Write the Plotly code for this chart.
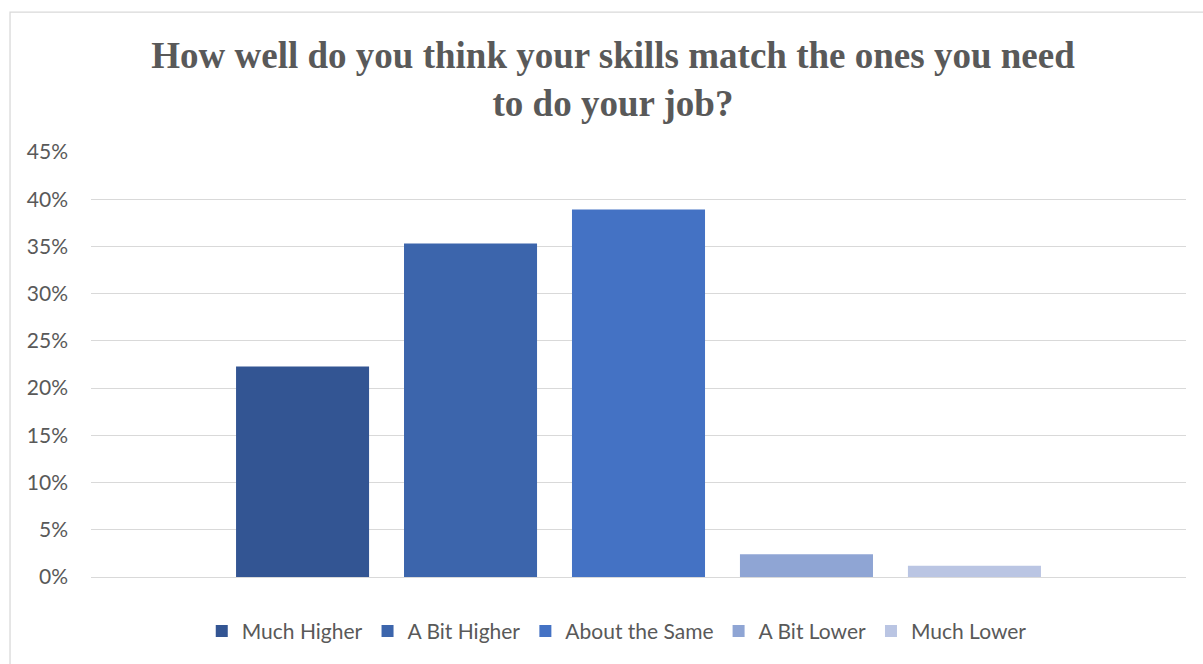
import plotly.graph_objects as go

# Survey responses: share of respondents per answer (percent)
categories = ["Much Higher", "A Bit Higher", "About the Same", "A Bit Lower", "Much Lower"]
shares = [22.3, 35.3, 38.9, 2.4, 1.2]
colors = ["#335593", "#3C65AC", "#4472C4", "#8FA5D4", "#BAC5E3"]
group_label = ["Skills vs. job requirements"]
y_ticks = [0, 5, 10, 15, 20, 25, 30, 35, 40, 45]
y_tick_labels = [f"{v}%" for v in y_ticks]

TEXT = "#595959"
GRID = "#D9D9D9"

fig = go.Figure()
for name, val, col in zip(categories, shares, colors):
    fig.add_trace(go.Bar(
        name=name,
        x=group_label,
        y=[val],
        marker=dict(color=col, line=dict(width=0)),
    ))

# plot-area geometry in pixels, used to place the outer chart frame
W, H = 1203, 664
ml, mr, mt, mb = 91, 16.5, 152, 86.5
pw = W - ml - mr
ph = H - mt - mb


def px_x(x):
    return (x - ml) / pw


def px_y(y):
    return (H - mb - y) / ph


fig.update_layout(
    width=W,
    height=H,
    margin=dict(l=ml, r=mr, t=mt, b=mb, pad=0),
    paper_bgcolor="white",
    plot_bgcolor="white",
    barmode="group",
    bargap=0.233,
    bargroupgap=0.208,
    title=dict(
        text="How well do you think your skills match the ones you need<br>to do your job?",
        font=dict(family="Liberation Serif", size=37, color=TEXT, weight="bold"),
        x=613 / W,
        xanchor="center",
        xref="container",
        y=1 - 68 / H,
        yanchor="middle",
        yref="container",
    ),
    xaxis=dict(
        showticklabels=False,
        showgrid=False,
        zeroline=False,
        showline=False,
        ticks="",
    ),
    yaxis=dict(
        range=[0, 45],
        tickmode="array",
        tickvals=y_ticks,
        ticktext=y_tick_labels,
        showgrid=True,
        gridcolor=GRID,
        gridwidth=1.3,
        zeroline=True,
        zerolinecolor=GRID,
        zerolinewidth=1.3,
        showline=False,
        ticks="",
        ticklabelstandoff=22,
        tickfont=dict(family="Lato", size=21, color=TEXT),
    ),
    legend=dict(
        orientation="h",
        x=px_x(617),
        xanchor="center",
        y=px_y(632),
        yanchor="middle",
        font=dict(family="Lato", size=21, color=TEXT),
        traceorder="normal",
        itemclick=False,
    ),
    showlegend=True,
    shapes=[
        dict(
            type="rect",
            xref="paper",
            yref="paper",
            x0=px_x(10),
            x1=px_x(W + 40),
            y0=px_y(H + 40),
            y1=px_y(12),
            line=dict(color=GRID, width=1.3),
            fillcolor="rgba(0,0,0,0)",
            layer="below",
        )
    ],
)

fig.write_html("out.html")
